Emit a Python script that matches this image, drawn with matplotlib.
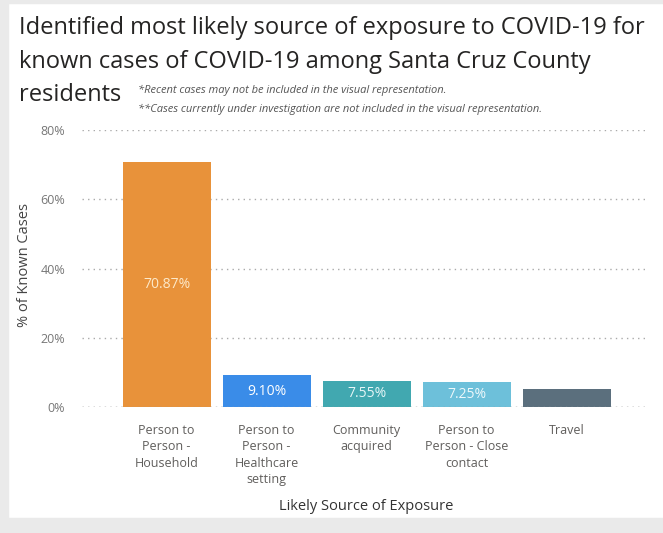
import matplotlib
matplotlib.use("Agg")
import matplotlib.pyplot as plt
from matplotlib.patches import Rectangle

# data
sources = ["Person to\nPerson -\nHousehold",
           "Person to\nPerson -\nHealthcare\nsetting",
           "Community\nacquired",
           "Person to\nPerson - Close\ncontact",
           "Travel"]
share = [70.87, 9.10, 7.55, 7.25, 5.23]
labels = ["70.87%", "9.10%", "7.55%", "7.25%", ""]
yticks = [0, 20, 40, 60, 80]

bar_colors = ["#E8923A", "#3A8CE8", "#41A8B0", "#6DC0DA", "#5B6F7D"]
label_colors = ["#FDE9C9", "#FFFFFF", "#E6F6F7", "#EEF8FB", "#FFFFFF"]

plt.rcParams['font.family'] = ['Open Sans', 'DejaVu Sans']

W, H = 663, 533
fig = plt.figure(figsize=(W / 100, H / 100), dpi=100)

# grey frame bits of the dashboard
grey = "#EAEAEA"
fig.patches.append(Rectangle((0, 0), 8 / W, 1, transform=fig.transFigure, color=grey, zorder=0))
fig.patches.append(Rectangle((0, 0), 1, 15 / H, transform=fig.transFigure, color=grey, zorder=0))
fig.patches.append(Rectangle((0, 1 - 3 / H), 1, 3 / H, transform=fig.transFigure, color=grey, zorder=0))

# title
title_color = "#252423"
tsize = 17
fig.text(19 / W, 1 - 28 / H, "Identified most likely source of exposure to COVID-19 for",
         fontsize=tsize, color=title_color, va="center", ha="left")
fig.text(19 / W, 1 - 62 / H, "known cases of COVID-19 among Santa Cruz County",
         fontsize=tsize, color=title_color, va="center", ha="left")
fig.text(19 / W, 1 - 95 / H, "residents",
         fontsize=tsize, color=title_color, va="center", ha="left")
fig.text(138 / W, 1 - 90 / H, "*Recent cases may not be included in the visual representation.",
         fontsize=8, style="italic", color="#555555", va="center", ha="left")
fig.text(138 / W, 1 - 109 / H, "**Cases currently under investigation are not included in the visual representation.",
         fontsize=8, style="italic", color="#555555", va="center", ha="left")

ax = fig.add_axes([82 / W, 1 - 407 / H, 566 / W, 277 / H])
x = list(range(len(sources)))
ax.bar(x, share, width=0.88, color=bar_colors, zorder=2)

for i in x:
    if labels[i]:
        ax.text(i, share[i] / 2, labels[i], ha="center", va="center",
                fontsize=10, color=label_colors[i], zorder=3)

ax.set_xlim(-0.845, 4.815)
ax.set_ylim(0, 80)
ax.set_yticks(yticks)
ax.set_yticklabels([f"{v}%" for v in yticks], fontsize=9, color="#777777")
ax.set_xticks(x)
ax.set_xticklabels(sources, fontsize=9, color="#605E5C", linespacing=1.35, va="top")
ax.tick_params(axis="both", length=0)
ax.tick_params(axis="y", pad=12)
ax.tick_params(axis="x", pad=12)

ax.grid(axis="y", color="#AAAAAA", linestyle=(0, (1, 3)), linewidth=1, zorder=1)
ax.axhline(0, color="#999999", linestyle=(0, (1, 3)), linewidth=1, zorder=4)
ax.set_axisbelow(True)
for s in ax.spines.values():
    s.set_visible(False)

ax.set_ylabel("% of Known Cases", fontsize=10.5, color="#444444")
ax.yaxis.set_label_coords(-0.088, 0.513)
ax.set_xlabel("Likely Source of Exposure", fontsize=10.5, color="#333333")
ax.xaxis.set_label_coords((366 - 82) / 566, -(506 - 407) / 277)
ax.xaxis.label.set_va("center")

fig.savefig("out.png", dpi=100)
